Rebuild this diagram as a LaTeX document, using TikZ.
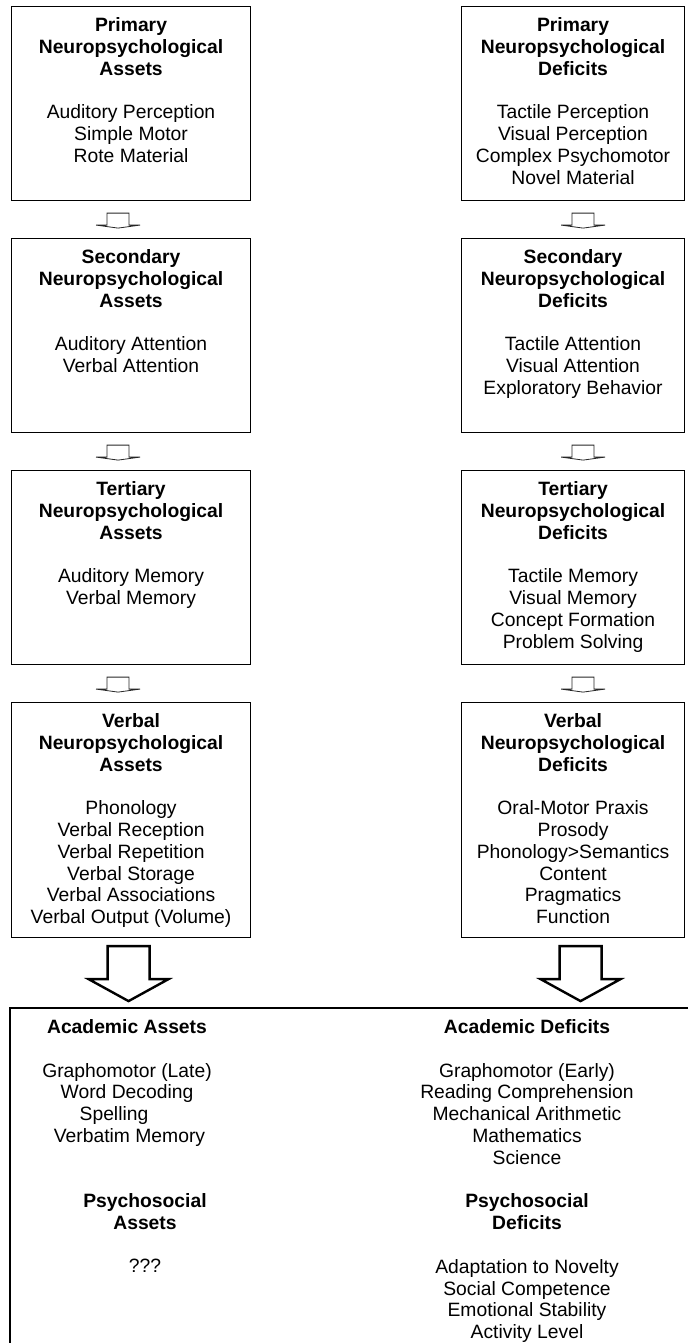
\documentclass[tikz,border=0pt]{standalone}
\usepackage{fontspec}
\setmainfont{Liberation Sans}
\usetikzlibrary{positioning}

\begin{document}
\begin{tikzpicture}[x=1pt, y=-1pt,
		panel/.style={draw, line width=1.1pt, anchor=north west, inner sep=0pt, minimum height=194pt},
		asset/.style={panel, minimum width=239pt},
		deficit/.style={panel, minimum width=223pt},
		txt/.style={align=center, inner sep=0pt, font=\fontsize{19.3}{21.8}\selectfont},
		smallarr/.style={draw=black!85, line width=0.8pt, line join=miter},
		bigarr/.style={draw, line width=2.4pt, fill=white, line join=miter}]
			% \draw[help lines] (0,0) grid (688,1343);
			\useasboundingbox (0,0) rectangle (688,1343);

			\node[asset] (pa) at (11,6) {};
			\node[asset] (sa) at (11,238) {};
			\node[asset] (ta) at (11,470) {};
			\node[asset, minimum height=235pt] (va) at (11,702) {};

			\node[deficit] (pd) at (461,6) {};
			\node[deficit] (sd) at (461,238) {};
			\node[deficit] (td) at (461,470) {};
			\node[deficit, minimum height=235pt] (vd) at (461,702) {};

			\node[txt, below=10pt of pa.north] (pat) {\strut\textbf{Primary}\\\textbf{Neuropsychological}\\\textbf{Assets}\\[21.8pt]Auditory Perception\\Simple Motor\\Rote Material};
			\node[txt, below=10pt of sa.north] (sat) {\strut\textbf{Secondary}\\\textbf{Neuropsychological}\\\textbf{Assets}\\[21.8pt]Auditory Attention\\Verbal Attention};
			\node[txt, below=10pt of ta.north] (tat) {\strut\textbf{Tertiary}\\\textbf{Neuropsychological}\\\textbf{Assets}\\[21.8pt]Auditory Memory\\Verbal Memory};
			\node[txt, below=10pt of va.north] (vat) {\strut\textbf{Verbal}\\\textbf{Neuropsychological}\\\textbf{Assets}\\[21.8pt]Phonology\\Verbal Reception\\Verbal Repetition\\Verbal Storage\\Verbal Associations\\Verbal Output (Volume)};

			\node[txt, below=10pt of pd.north] (pdt) {\strut\textbf{Primary}\\\textbf{Neuropsychological}\\\textbf{Deficits}\\[21.8pt]Tactile Perception\\Visual Perception\\Complex Psychomotor\\Novel Material};
			\node[txt, below=10pt of sd.north] (sdt) {\strut\textbf{Secondary}\\\textbf{Neuropsychological}\\\textbf{Deficits}\\[21.8pt]Tactile Attention\\Visual Attention\\Exploratory Behavior};
			\node[txt, below=10pt of td.north] (tdt) {\strut\textbf{Tertiary}\\\textbf{Neuropsychological}\\\textbf{Deficits}\\[21.8pt]Tactile Memory\\Visual Memory\\Concept Formation\\Problem Solving};
			\node[txt, below=10pt of vd.north] (vdt) {\strut\textbf{Verbal}\\\textbf{Neuropsychological}\\\textbf{Deficits}\\[21.8pt]Oral-Motor Praxis\\Prosody\\Phonology>Semantics\\Content\\Pragmatics\\Function};

			\foreach \b/\dx in {pa/-13, sa/-13, ta/-13, pd/10, sd/10, td/10}
				\draw[smallarr] ([xshift=\dx, yshift=-12pt]\b.south) ++(-11,0) -- ++(22,0) -- ++(0,12) -- ++(11,0) -- ++(-22,3) -- ++(-22,-3) -- ++(11,0) -- cycle;

			\draw[bigarr] ([xshift=-2.5, yshift=-8pt]va.south) ++(-21,0) -- ++(42,0) -- ++(0,33) -- ++(19,0) -- ++(-40,22) -- ++(-40,-22) -- ++(19,0) -- cycle;
			\draw[bigarr] ([xshift=7.5, yshift=-8pt]vd.south) ++(-21,0) -- ++(42,0) -- ++(0,33) -- ++(19,0) -- ++(-40,22) -- ++(-40,-22) -- ++(19,0) -- cycle;

			\draw[line width=1.1pt] (688,1008) -- (10,1008) -- (10,1343);

			\node[txt, anchor=north] (aca) at (127,1018) {\strut\textbf{Academic Assets}\\[21.8pt]Graphomotor (Late)\\Word Decoding\\\hspace*{-26pt}Spelling\\\hspace*{5pt}Verbatim Memory};
			\node[txt, anchor=north] (psa) at (145,1192) {\strut\textbf{Psychosocial}\\\textbf{Assets}\\[21.8pt]???};
			\node[txt, anchor=north] (acd) at (527,1018) {\strut\textbf{Academic Deficits}\\[21.8pt]Graphomotor (Early)\\Reading Comprehension\\Mechanical Arithmetic\\Mathematics\\Science\\[21.8pt]\textbf{Psychosocial}\\\textbf{Deficits}\\[21.8pt]Adaptation to Novelty\\Social Competence\\Emotional Stability\\Activity Level};
		\end{tikzpicture}
\end{document}
